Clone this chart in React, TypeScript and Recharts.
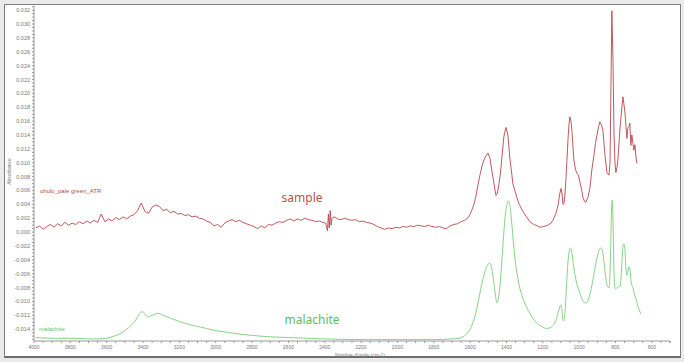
import React from "react";
import { LineChart, Line, XAxis, YAxis, ReferenceDot } from "recharts";

// ---- data (wavenumber cm-1, absorbance) ----
const sampleWavenumber = [
  3990, 3970, 3950, 3930, 3910, 3890, 3870, 3850, 3830, 3810, 3790, 3770, 3750, 3730, 3710, 3690, 3670, 3650, 3630, 3610,
  3590, 3570, 3550, 3530, 3510, 3490, 3470, 3450, 3430, 3410, 3390, 3370, 3350, 3330, 3310, 3290, 3270, 3250, 3230, 3210,
  3190, 3170, 3150, 3130, 3110, 3090, 3070, 3050, 3030, 3010, 2990, 2970, 2950, 2930, 2910, 2890, 2870, 2850, 2830, 2810,
  2790, 2770, 2750, 2730, 2710, 2690, 2670, 2650, 2630, 2610, 2590, 2570, 2550, 2530, 2510, 2490, 2470, 2450, 2430, 2410,
  2395, 2385, 2380, 2375, 2370, 2365, 2360, 2344, 2330, 2310, 2290, 2270, 2250, 2230, 2210, 2190, 2170, 2150, 2130, 2110,
  2090, 2070, 2050, 2030, 2010, 1990, 1970, 1950, 1930, 1910, 1890, 1870, 1850, 1830, 1810, 1790, 1770, 1750, 1730, 1710,
  1690, 1670, 1650, 1630, 1610, 1600, 1590, 1579, 1568, 1557, 1546, 1535, 1524, 1513, 1502, 1491, 1480, 1470, 1458, 1450,
  1442, 1433, 1425, 1414, 1403, 1392, 1381, 1370, 1365, 1354, 1343, 1330, 1310, 1290, 1271, 1250, 1230, 1216, 1195, 1172,
  1155, 1144, 1128, 1115, 1107, 1100, 1094, 1089, 1083, 1078, 1072, 1067, 1061, 1056, 1051, 1045, 1040, 1029, 1020, 1012,
  1004, 996, 987, 979, 970, 963, 952, 941, 930, 919, 910, 902, 893, 886, 878, 869, 858, 847, 836, 830,
  825, 820, 814, 808, 803, 798, 792, 787, 776, 765, 759, 754, 748, 743, 737, 732, 726, 721, 715, 710,
  704, 699, 693, 688, 682,
];
const sampleAbsorbance = [
  0.0006, 0.0009, 0.0004, 0.0008, 0.0011, 0.0007, 0.0012, 0.0009, 0.0014, 0.001, 0.0013, 0.0011, 0.0015, 0.0012, 0.0016, 0.0013, 0.0017, 0.0014, 0.0026, 0.0015,
  0.0019, 0.0016, 0.0021, 0.0018, 0.0022, 0.0019, 0.0023, 0.0025, 0.0031, 0.0042, 0.003, 0.0027, 0.0036, 0.0039, 0.0037, 0.0031, 0.0033, 0.0028, 0.003, 0.0026,
  0.0027, 0.0024, 0.0025, 0.0022, 0.0023, 0.002, 0.0019, 0.0016, 0.0014, 0.0009, 0.0011, 0.0007, 0.0013, 0.0016, 0.0018, 0.0015, 0.0017, 0.0014, 0.0012, 0.001,
  0.0008, 0.0005, 0.0009, 0.0006, 0.0011, 0.001, 0.0013, 0.0015, 0.0014, 0.0017, 0.0019, 0.0016, 0.0019, 0.0017, 0.002, 0.0018, 0.0017, 0.0015, 0.0016, 0.0014,
  0.0013, 0.0002, 0.0026, 0.0006, 0.0031, 0.001, 0.002, 0.0022, 0.0019, 0.0018, 0.002, 0.0018, 0.0017, 0.0018, 0.0015, 0.0016, 0.0014, 0.0013, 0.0011, 0.0008,
  0.0006, 0.0004, 0.0006, 0.0005, 0.0007, 0.0006, 0.0008, 0.0007, 0.0009, 0.0008, 0.001, 0.0009, 0.0008, 0.001, 0.0008, 0.0007, 0.0008, 0.0006, 0.0005, 0.0009,
  0.0011, 0.0012, 0.0015, 0.0017, 0.0021, 0.0026, 0.0032, 0.004, 0.0052, 0.0068, 0.0082, 0.0095, 0.0104, 0.011, 0.0114, 0.0107, 0.0088, 0.0072, 0.0053, 0.0056,
  0.0068, 0.0085, 0.0108, 0.0138, 0.0151, 0.014, 0.0106, 0.0082, 0.007, 0.006, 0.005, 0.004, 0.003, 0.0022, 0.0015, 0.0011, 0.0009, 0.0007, 0.0008, 0.001,
  0.0013, 0.0017, 0.0027, 0.004, 0.0055, 0.0063, 0.0055, 0.004, 0.0042, 0.0055, 0.008, 0.0104, 0.0135, 0.0155, 0.0166, 0.016, 0.0147, 0.0104, 0.009, 0.0085,
  0.0082, 0.0072, 0.0062, 0.005, 0.0044, 0.0043, 0.005, 0.0063, 0.009, 0.011, 0.0128, 0.014, 0.0152, 0.0159, 0.0155, 0.0147, 0.0111, 0.0086, 0.0082, 0.01,
  0.021, 0.0319, 0.025, 0.014, 0.01, 0.0086, 0.0093, 0.0104, 0.0147, 0.0179, 0.0195, 0.0185, 0.0173, 0.0155, 0.0135, 0.015, 0.0152, 0.0157, 0.0125, 0.014,
  0.0128, 0.0118, 0.0126, 0.011, 0.0099,
];

const malachiteWavenumber = [
  3990, 3900, 3800, 3700, 3650, 3600, 3560, 3530, 3500, 3480, 3460, 3440, 3425, 3410, 3400, 3390, 3375, 3360, 3340, 3320,
  3305, 3280, 3250, 3200, 3150, 3100, 3050, 3000, 2950, 2900, 2800, 2700, 2600, 2500, 2400, 2200, 2000, 1800, 1700, 1660,
  1640, 1620, 1600, 1585, 1570, 1555, 1540, 1525, 1512, 1500, 1490, 1480, 1470, 1460, 1452, 1445, 1435, 1425, 1415, 1405,
  1395, 1388, 1380, 1370, 1360, 1350, 1335, 1320, 1300, 1280, 1260, 1240, 1220, 1200, 1180, 1160, 1140, 1125, 1112, 1102,
  1096, 1090, 1085, 1078, 1070, 1062, 1055, 1048, 1040, 1030, 1015, 1000, 985, 970, 960, 945, 930, 915, 900, 890,
  880, 873, 865, 855, 845, 836, 828, 822, 818, 814, 808, 803, 795, 785, 775, 768, 762, 756, 750, 744,
  738, 732, 726, 720, 714, 705, 695, 685, 675, 665, 660,
];
const malachiteAbsorbance = [
  -0.0152, -0.0153, -0.0153, -0.0154, -0.0154, -0.0153, -0.015, -0.0147, -0.0142, -0.0138, -0.0133, -0.0127, -0.012, -0.0115, -0.0115, -0.0118, -0.0122, -0.0121, -0.0119, -0.0117,
  -0.0118, -0.0121, -0.0124, -0.0129, -0.0133, -0.0136, -0.0139, -0.0142, -0.0144, -0.0146, -0.0149, -0.0151, -0.0152, -0.0153, -0.0154, -0.0155, -0.0155, -0.0155, -0.0154, -0.0153,
  -0.0151, -0.0147, -0.014, -0.0131, -0.0118, -0.01, -0.008, -0.0063, -0.0052, -0.0046, -0.0045, -0.0053, -0.0072, -0.0092, -0.0102, -0.0097, -0.0075, -0.004, -0.0003, 0.0028,
  0.0042, 0.0045, 0.0036, 0.001, -0.002, -0.0045, -0.007, -0.0087, -0.0102, -0.0113, -0.0122, -0.0129, -0.0134, -0.0137, -0.0139, -0.0138, -0.0133, -0.0125, -0.0113, -0.0105,
  -0.011, -0.0127, -0.0128, -0.0115, -0.008, -0.0045, -0.0028, -0.0023, -0.003, -0.005, -0.0072, -0.0085, -0.0096, -0.0102, -0.0102, -0.0094, -0.0077, -0.0055, -0.0036, -0.0026,
  -0.0023, -0.0025, -0.004, -0.0062, -0.0078, -0.008, -0.004, 0.003, 0.0046, 0.002, -0.006, -0.0081, -0.0081, -0.0079, -0.0078, -0.006, -0.003, -0.0017, -0.002, -0.0045,
  -0.0062, -0.0058, -0.005, -0.0055, -0.0072, -0.008, -0.009, -0.0098, -0.0108, -0.0115, -0.0118,
];

const xTickLabels = [4000, 3800, 3600, 3400, 3200, 3000, 2800, 2600, 2400, 2200, 2000, 1800, 1600, 1400, 1200, 1000, 800, 600];
const yTickLabels = [
  0.032, 0.03, 0.028, 0.026, 0.024, 0.022, 0.02, 0.018, 0.016, 0.014, 0.012, 0.01, 0.008, 0.006, 0.004, 0.002, 0,
  -0.002, -0.004, -0.006, -0.008, -0.01, -0.012, -0.014,
];

const sampleData = sampleWavenumber.map((w, i) => ({ w, a: sampleAbsorbance[i] }));
const malachiteData = malachiteWavenumber.map((w, i) => ({ w, a: malachiteAbsorbance[i] }));

// minor ticks (between labelled ticks)
const xTicks: number[] = [];
for (let i = 0; i < xTickLabels.length; i++) {
  const v = xTickLabels[i];
  for (let k = 0; k < 4; k++) if (v - k * 50 >= 500) xTicks.push(v - k * 50);
}
xTicks.push(500);
const yTicks: number[] = [];
for (let i = 0; i < yTickLabels.length; i++) {
  const v = yTickLabels[i];
  for (let k = 0; k < 4; k++) {
    const t = +(v - k * 0.0005).toFixed(4);
    if (t >= -0.0157) yTicks.push(t);
  }
}
yTicks.push(0.0325);

const isMajorX = (v: number) => xTickLabels.indexOf(v) >= 0;
const isMajorY = (v: number) => yTickLabels.some((t) => Math.abs(t - v) < 1e-7);

const XTick = (props: any) => {
  const { x, y, payload } = props;
  if (!isMajorX(payload.value)) return <g />;
  return (
    <text x={x} y={y + 4} textAnchor="middle" fontSize={5} fill="#777" fontFamily="Liberation Sans, Arial, sans-serif">
      {payload.value}
    </text>
  );
};
const YTick = (props: any) => {
  const { x, y, payload } = props;
  if (!isMajorY(payload.value)) return <g />;
  return (
    <text x={x} y={y + 2} textAnchor="end" fontSize={5.5} fill="#777" fontFamily="Liberation Sans, Arial, sans-serif">
      {payload.value.toFixed(3)}
    </text>
  );
};

const RED = "#b8474d";
const GREEN = "#86d486";

const textAt = (content: string, fill: string, size: number, anchor: "start" | "middle", family: string) => (p: any) => (
  <text x={p.cx} y={p.cy} dy="0.35em" textAnchor={anchor} fontSize={size} fill={fill} fontFamily={family}>
    {content}
  </text>
);

export default function App() {
  return (
    <div style={{ position: "absolute", left: 0, top: 0, width: 684, height: 362, background: "#ebebeb" }}>
      <div
        style={{
          position: "absolute",
          left: 4,
          top: 4,
          width: 677,
          height: 354,
          boxSizing: "border-box",
          border: "1px solid #7d7d7d",
          borderBottom: "2px solid #6d6d6d",
          background: "#ffffff",
        }}
      />
      <div style={{ position: "absolute", left: 0, top: 0 }}>
        <LineChart width={684} height={362} margin={{ top: 6, right: 14, bottom: 0, left: 0 }}>
          <XAxis
            dataKey="w"
            type="number"
            domain={[500, 4000]}
            reversed
            allowDataOverflow
            ticks={xTicks}
            interval={0}
            tick={<XTick />}
            tickSize={2}
            tickMargin={2}
            height={21}
            stroke="#9a9a9a"
            label={{
              value: "Nombre d'onde (cm-1)",
              position: "insideBottom",
              offset: 5,
              dx: 8,
              fontSize: 5,
              fill: "#777",
              fontFamily: "Liberation Sans, Arial, sans-serif",
            }}
          />
          <YAxis
            dataKey="a"
            type="number"
            domain={[-0.0157, 0.0326]}
            allowDataOverflow
            ticks={yTicks}
            interval={0}
            tick={<YTick />}
            tickSize={2}
            tickMargin={2}
            width={34}
            stroke="#9a9a9a"
            label={{
              value: "Absorbance",
              angle: -90,
              position: "center",
              dx: -8,
              dy: -2,
              fontSize: 5,
              fill: "#777",
              fontFamily: "Liberation Sans, Arial, sans-serif",
            }}
          />
          <Line data={malachiteData} dataKey="a" type="monotone" stroke={GREEN} strokeWidth={1} dot={false} isAnimationActive={false} />
          <Line data={sampleData} dataKey="a" type="linear" stroke={RED} strokeWidth={0.9} dot={false} isAnimationActive={false} />
          <ReferenceDot x={3967} y={0.006} r={0} ifOverflow="visible" shape={textAt("ohulo_pale green_ATR", RED, 6, "start", "Liberation Sans, Arial, sans-serif")} />
          <ReferenceDot x={3972} y={-0.014} r={0} ifOverflow="visible" shape={textAt("malachite", "#66c466", 6, "start", "Liberation Sans, Arial, sans-serif")} />
          <ReferenceDot x={2525} y={0.005} r={0} ifOverflow="visible" shape={textAt("sample", "#c0504d", 12, "middle", "Noto Sans, sans-serif")} />
          <ReferenceDot x={2470} y={-0.0126} r={0} ifOverflow="visible" shape={textAt("malachite", "#5cbf5c", 12, "middle", "Noto Sans, sans-serif")} />
        </LineChart>
      </div>
    </div>
  );
}
